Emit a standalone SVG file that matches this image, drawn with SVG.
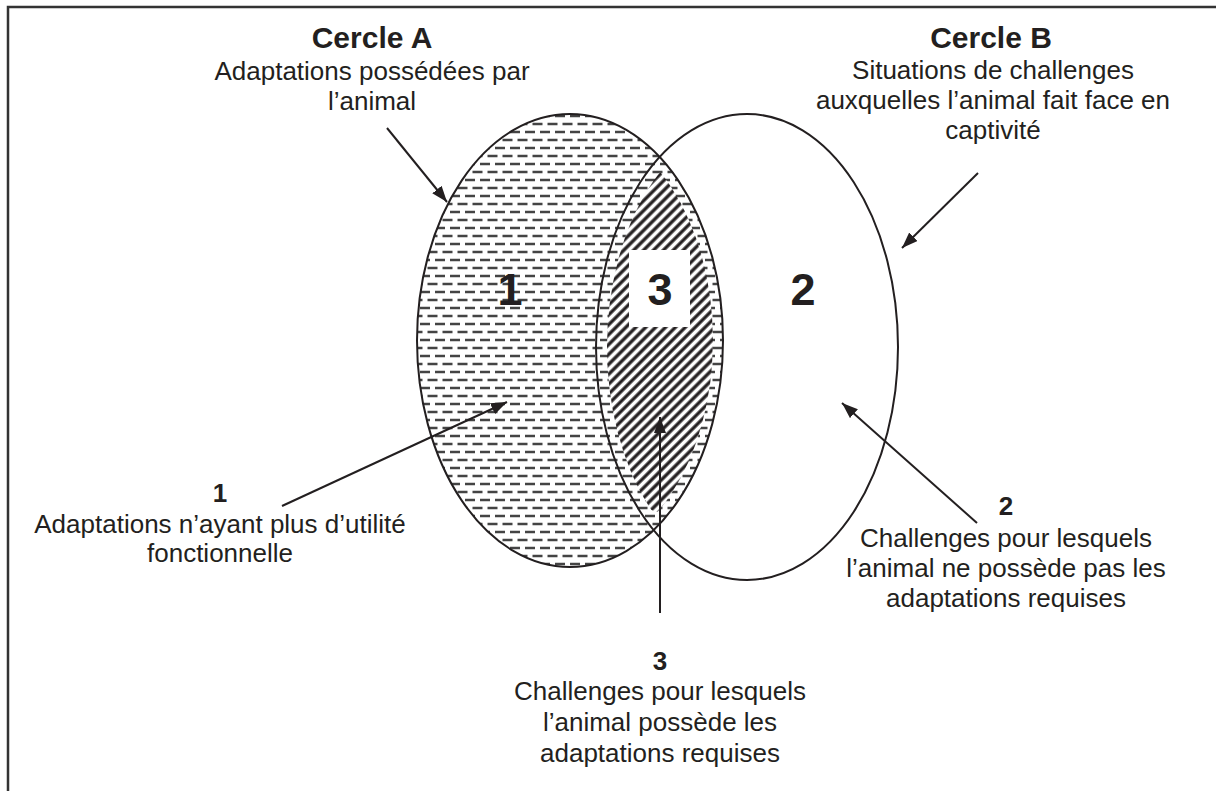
<svg xmlns="http://www.w3.org/2000/svg" width="1216" height="791" viewBox="0 0 1216 791">
<style>
.t{font-family:"Liberation Sans",Arial,sans-serif;fill:#231f20;text-anchor:middle}
.h{font-size:30px;font-weight:bold}
.s{font-size:26px}
.n{font-size:26px;font-weight:bold}
.big{font-size:45px;font-weight:bold}
.edge{fill:none;stroke:#231f20;stroke-width:2}
.arr{fill:none;stroke:#231f20;stroke-width:2;marker-end:url(#ah)}
</style>
<defs>
<pattern id="dash" patternUnits="userSpaceOnUse" width="15" height="16">
<path d="M0 4H10M7.5 12H15M0 12H2.5" stroke="#444" stroke-width="2.5" fill="none"/>
</pattern>
<pattern id="diag" patternUnits="userSpaceOnUse" width="7" height="7" patternTransform="rotate(45)">
<rect x="0" y="0" width="7" height="7" fill="#fff"/>
<line x1="2" y1="0" x2="2" y2="7" stroke="#231f20" stroke-width="3.3"/>
</pattern>
<clipPath id="clipA"><ellipse cx="570" cy="340.5" rx="143" ry="217"/></clipPath>
<clipPath id="clipB"><ellipse cx="747" cy="347" rx="140" ry="223"/></clipPath>
<marker id="ah" viewBox="0 0 16 12" refX="16" refY="6" markerWidth="16" markerHeight="12" markerUnits="userSpaceOnUse" orient="auto">
<path d="M0 0L16 6L0 12z" fill="#231f20"/>
</marker>
</defs>
<rect width="1216" height="791" fill="#fff"/>
<path d="M8 791V7H1216" fill="none" stroke="#333" stroke-width="2.5"/>
<g id="circleA">
<ellipse cx="570" cy="340.5" rx="153" ry="226.5" fill="url(#dash)"/>
</g>
<g id="region3">
<g clip-path="url(#clipA)">
<g clip-path="url(#clipB)">
<ellipse cx="659" cy="340" rx="54" ry="172" fill="url(#diag)"/>
</g>
</g>
<rect x="629" y="250" width="61" height="77" fill="#fff"/>
</g>
<g id="outlines">
<ellipse class="edge" cx="570" cy="340.5" rx="153" ry="226.5"/>
<ellipse id="circleB" class="edge" cx="747" cy="347" rx="151" ry="233"/>
</g>
<g id="numbers">
<text class="t big" x="510" y="305">1</text>
<text class="t big" x="660" y="305">3</text>
<text class="t big" x="803" y="305">2</text>
</g>
<g id="labelA">
<text class="t h" x="372" y="48">Cercle A</text>
<text class="t s" x="372" y="80">Adaptations possédées par</text>
<text class="t s" x="372" y="110">l’animal</text>
</g>
<g id="labelB">
<text class="t h" x="991" y="48">Cercle B</text>
<text class="t s" x="993" y="79">Situations de challenges</text>
<text class="t s" x="993" y="109">auxquelles l’animal fait face en</text>
<text class="t s" x="993" y="139">captivité</text>
</g>
<g id="label1">
<text class="t n" x="220" y="502">1</text>
<text class="t s" x="220" y="533">Adaptations n’ayant plus d’utilité</text>
<text class="t s" x="220" y="562">fonctionnelle</text>
</g>
<g id="label2">
<text class="t n" x="1006" y="515">2</text>
<text class="t s" x="1006" y="547">Challenges pour lesquels</text>
<text class="t s" x="1006" y="577">l’animal ne possède pas les</text>
<text class="t s" x="1006" y="607">adaptations requises</text>
</g>
<g id="label3">
<text class="t n" x="660" y="670">3</text>
<text class="t s" x="660" y="700">Challenges pour lesquels</text>
<text class="t s" x="660" y="731">l’animal possède les</text>
<text class="t s" x="660" y="762">adaptations requises</text>
</g>
<g id="connectors">
<line class="arr" x1="387" y1="128" x2="447" y2="202"/>
<line class="arr" x1="978" y1="173" x2="902" y2="248"/>
<line class="arr" x1="282" y1="506" x2="507" y2="402"/>
<line class="arr" x1="660" y1="613" x2="660" y2="417"/>
<line class="arr" x1="977" y1="523" x2="842" y2="403"/>
</g>
</svg>
